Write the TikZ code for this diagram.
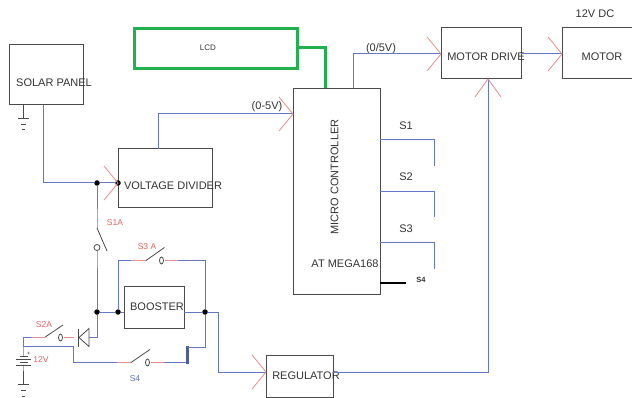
\documentclass[tikz,border=0pt]{standalone}
\usepackage{fontspec}
\setmainfont{Liberation Sans}
\definecolor{wireblue}{HTML}{6478C8}
\definecolor{wirered}{HTML}{E58F8F}
\definecolor{boxgray}{HTML}{4A4A4A}
\definecolor{lcdgreen}{HTML}{22B14C}
\definecolor{labred}{HTML}{E06060}
\definecolor{labblue}{HTML}{5A6FB8}
\tikzset{
 blockbox/.style={draw=boxgray,line width=1pt,inner sep=0pt,outer sep=0pt,anchor=north west},
 wire/.style={draw=wireblue,line width=1pt},
 redwire/.style={draw=wirered,line width=1pt},
 barb/.style={draw=wirered,line width=0.8pt},
 blade/.style={draw=boxgray,line width=0.8pt},
 dot/.style={circle,fill=black,inner sep=0pt,minimum size=5.5pt},
 blocktext/.style={font=\fontsize{11}{13}\selectfont,text=black!80,inner sep=0pt},
 smalltext/.style={font=\fontsize{8.5}{10}\selectfont,inner sep=0pt},
}
\newcommand{\barbs}[4]{\draw[barb] (#1+#3,#2+#4) -- (#1,#2) -- (#1+#3,#2-#4);}
\begin{document}
\begin{tikzpicture}[x=1pt,y=-1pt]
\useasboundingbox (0,0) rectangle (632,398);
\fill[white] (0,0) rectangle (632,398);
% blocks
\node[blockbox,minimum width=73.5pt,minimum height=60pt] (solar) at (9.5,45) {};
\node[blockbox,draw=lcdgreen,line width=3pt,minimum width=163pt,minimum height=40pt] (lcd) at (134,29) {};
\node[blockbox,minimum width=94pt,minimum height=59pt] (vd) at (118,149) {};
\node[blockbox,minimum width=87pt,minimum height=206pt] (mcu) at (293,88.5) {};
\node[blockbox,minimum width=80pt,minimum height=51pt] (drive) at (441,28) {};
\node[blockbox,minimum width=80pt,minimum height=51pt] (motor) at (562,28) {};
\node[blockbox,minimum width=60pt,minimum height=42pt] (booster) at (124,286) {};
\node[blockbox,minimum width=67pt,minimum height=42pt] (reg) at (266,355) {};
% texts
\node[blocktext] (tsolar) at (54,83) {SOLAR PANEL};
\node[font=\fontsize{8}{10}\selectfont,text=black!80,inner sep=0pt] (tlcd) at (208,47.5) {LCD};
\node[blocktext] (tvd) at (173,186) {VOLTAGE DIVIDER};
\node[blocktext,rotate=90] (tmcu) at (334.5,177) {MICRO CONTROLLER};
\node[blocktext] (tat) at (345,264) {AT MEGA168};
\node[blocktext] (tdrive) at (486,57) {MOTOR DRIVE};
\node[blocktext] (tmotor) at (602,57) {MOTOR};
\node[blocktext] (t12) at (595,14) {12V DC};
\node[blocktext] (tboost) at (157,307) {BOOSTER};
\node[blocktext] (treg) at (306,376) {REGULATOR};
\node[blocktext] (t05a) at (267,107) {(0-5V)};
\node[blocktext] (t05b) at (381,48.5) {(0/5V)};
\node[blocktext] (ts1) at (406,126) {S1};
\node[blocktext] (ts2) at (406,177) {S2};
\node[blocktext] (ts3) at (406,229) {S3};
\node[font=\bfseries\fontsize{7.5}{9}\selectfont,text=black!80,inner sep=0pt] (ts4b) at (421,280) {S4};
\node[smalltext,text=labred] (ls1a) at (115,223) {S1A};
\node[smalltext,text=labred] (ls3a) at (147,247) {S3 A};
\node[smalltext,text=labred] (ls2a) at (44,325) {S2A};
\node[smalltext,text=labred] (l12) at (41,360) {12V};
\node[smalltext,text=labblue] (ls4) at (135,379) {S4};
% junctions
\coordinate (jtop) at (97,183);
\coordinate (jmid) at (97,312);
\coordinate (jbl) at (118,312);
\coordinate (jbr) at (205,312);
\node[dot] (d1) at (jtop) {};
\node[dot] (d2) at (118,183) {};
\node[dot] (d3) at (jmid) {};
\node[dot] (d4) at (jbl) {};
\node[dot] (d5) at (jbr) {};
% power input
\draw[wire] (solar.south -| 43,0) -- (43,183) -- (d1) -- (d2);
\barbs{118}{183}{-14}{17}
\draw[wire] (vd.north -| 158,0) -- (158,114) -- (mcu.west |- 0,114);
\barbs{293}{114}{-14}{17}
\draw[wire] (mcu.north -| 353,0) -- (353,54) -- (drive.west |- 0,54);
\barbs{441}{54}{-14}{17}
\draw[wire] (drive.east |- 0,54) -- (motor.west |- 0,54);
\barbs{562}{54}{-14}{17}
\draw[lcdgreen,line width=3pt] (lcd.east |- 0,47.5) -- (325.5,47.5) -- (mcu.north -| 325.5,0);
% MCU outputs
\draw[wire] (mcu.east |- 0,140) -- (434,140) -- (434,166);
\draw[wire] (mcu.east |- 0,191.5) -- (434,191.5) -- (434,217);
\draw[wire] (mcu.east |- 0,243) -- (434,243) -- (434,269);
\draw[black,line width=2.5pt] (mcu.east |- 0,283) -- (406,283);
% regulator
\draw[wire] (booster.east |- 0,312) -- (d5) -- (218,312) -- (218,372) -- (reg.west |- 0,372);
\barbs{266}{372}{-14}{17}
\draw[wire] (reg.east |- 0,372) -- (488,372) -- (drive.south -| 488,0);
\draw[barb] (475,97) -- (488,79) -- (501,97);
% S1A
\draw[wire] (d1) -- (97,209);
\draw[redwire] (97,209) -- (97,228);
\draw[blade] (97,228) -- (107,251);
\draw[blade] (97,247.5) circle (3pt);
\draw[redwire] (97,251) -- (97,268);
\draw[wire] (97,268) -- (d3);
\draw[wire] (d3) -- (d4) -- (booster.west |- 0,312);
% S3 A
\draw[wire] (d4) -- (118,260.5) -- (131,260.5);
\draw[redwire] (131,260.5) -- (146,260.5);
\draw[blade] (146,260.5) -- (164.5,247.5);
\draw[blade] (161.5,260.5) ellipse (2pt and 3.5pt);
\draw[redwire] (164.5,260.5) -- (178,260.5);
\draw[wire] (178,260.5) -- (205,260.5) -- (d5);
% diode and S2A
\draw[wire] (d3) -- (97,337.5) -- (89,337.5);
\draw[blade] (89,328.5) -- (89,346.5) -- (79,337.5) -- cycle;
\draw[blade] (78.5,328.5) -- (78.5,346.5);
\draw[redwire] (64,337.5) -- (74,337.5);
\draw[blade] (60.5,337.5) ellipse (2pt and 3.5pt);
\draw[blade] (44.5,337.5) -- (63,325);
\draw[redwire] (31,337.5) -- (44.5,337.5);
\draw[wire] (31,337.5) -- (23.5,337.5) -- (23.5,347);
% S4 branch
\draw[wire] (23.5,346.5) -- (73.5,346.5) -- (73.5,362.5) -- (117,362.5);
\draw[redwire] (117,362.5) -- (131,362.5);
\draw[blade] (131,362.5) -- (150,349.5);
\draw[blade] (147.5,362.5) ellipse (2pt and 3.5pt);
\draw[redwire] (151,362.5) -- (164,362.5);
\draw[wire] (164,362.5) -- (187,362.5);
\draw[draw=labblue!85!black,line width=3pt] (187,345.5) -- (187,363.5);
\draw[wire] (187,347) -- (205,347) -- (d5);
% battery
\draw[redwire] (23.5,347) -- (23.5,356);
\draw[blade] (19.5,356.5) -- (27.5,356.5);
\draw[blade] (16,359.5) -- (31,359.5);
\draw[blade] (19.5,362.5) -- (27.5,362.5);
\draw[blade] (16,365.5) -- (31,365.5);
\draw[redwire] (23.5,366) -- (23.5,371);
\draw[blade] (23.5,371) -- (23.5,384);
\draw[blade] (18,384.5) -- (29,384.5);
\draw[blade] (21,390.5) -- (26,390.5);
\draw[blade] (22,396.5) -- (25,396.5);
\node[font=\fontsize{6}{7}\selectfont,text=black!80,inner sep=0pt] (plus) at (29,353.5) {+};
% solar ground
\draw[blade] (solar.south -| 23.5,0) -- (23.5,118);
\draw[blade] (18,118.5) -- (29,118.5);
\draw[blade] (21,124.5) -- (26,124.5);
\draw[blade] (22,129.5) -- (25,129.5);
\end{tikzpicture}
\end{document}
